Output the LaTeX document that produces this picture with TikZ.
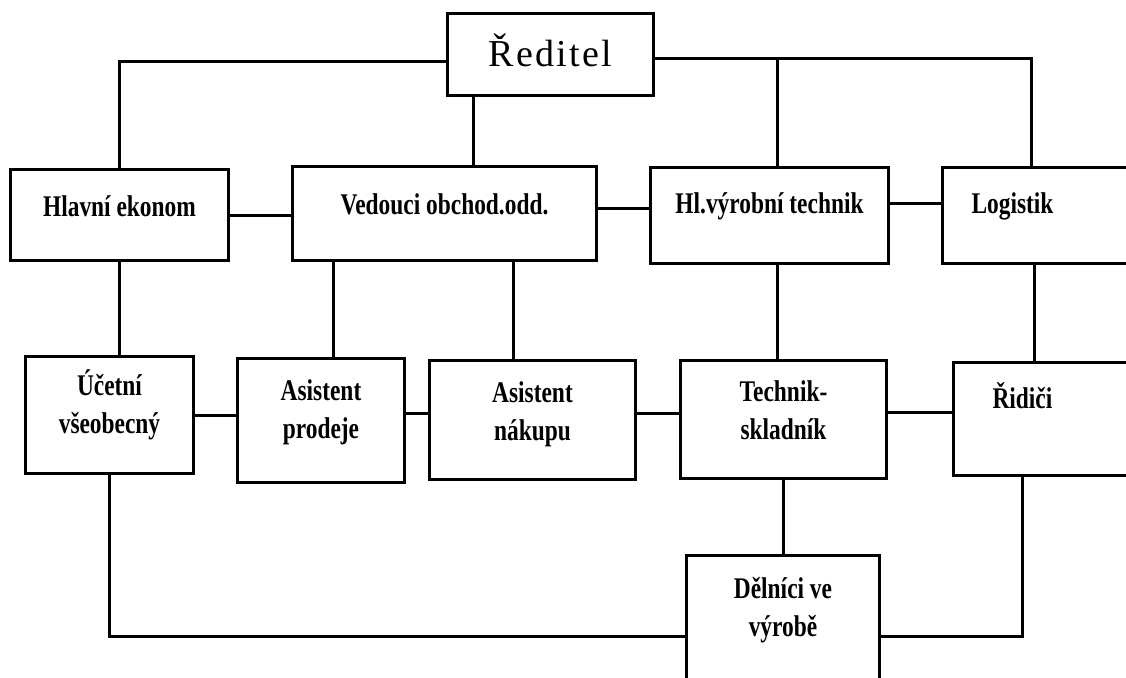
\documentclass[tikz,border=0pt]{standalone}
\usepackage{fontspec}
\newfontfamily\orgfont{Liberation Serif}[FakeStretch=0.78]
\newfontfamily\headfont{Liberation Serif}[LetterSpace=6]

\begin{document}
\begin{tikzpicture}[x=1pt,y=-1pt,
  unit/.style={draw,line width=3pt,inner xsep=0pt,inner ysep=0pt,anchor=north west,
    align=center,font=\orgfont\bfseries\fontsize{30}{38}\selectfont},
  link/.style={line width=3pt}]
  \useasboundingbox (0,0) rectangle (1126,677);

  % top and second row
  \node[unit,font=\headfont\fontsize{38}{40}\selectfont,minimum width=206pt,text height=53pt,text depth=29pt] (reditel) at (446,12) {Ředitel};
  \node[unit,minimum width=218pt,text height=47pt,text depth=44pt] (hlavni) at (9,168) {Hlavní ekonom};
  \node[unit,minimum width=304pt,text height=48pt,text depth=46pt] (vedouci) at (291,165) {Vedouci obchod.odd.};
  \node[unit,minimum width=238pt,text height=46pt,text depth=50pt] (vyroba) at (649,166) {Hl.výrobní technik};
  \node[unit,text width=200pt,align=left,inner xsep=29pt,text height=46pt,text depth=50pt] (logistik) at (941,166) {Logistik};

  % third row
  \node[unit,minimum width=168pt,text height=77pt,text depth=40pt] (ucetni) at (24,355) {Účetní\\všeobecný};
  \node[unit,minimum width=167pt,text height=80pt,text depth=44pt] (prodej) at (236,357) {Asistent\\prodeje};
  \node[unit,minimum width=206pt,text height=80pt,text depth=39pt] (nakup) at (428,359) {Asistent\\nákupu};
  \node[unit,minimum width=206pt,text height=79pt,text depth=39pt] (technik) at (679,359) {Technik-\\skladník};
  \node[unit,text width=200pt,align=left,inner xsep=39pt,text height=46pt,text depth=67pt] (ridici) at (952,361) {Řidiči};

  \node[unit,minimum width=193pt,text height=81pt,text depth=81pt] (delnici) at (685,554) {Dělníci ve\\výrobě};

  % links
  \draw[link] ([yshift=-7pt]reditel.west) -| (hlavni.north);
  \draw[link] ([yshift=-4pt]reditel.east) coordinate (rtop) -| ([xshift=90pt]logistik.north west);
  \draw[link] ([xshift=8pt]vyroba.north) coordinate (v3) -- (v3 |- rtop);
  \draw[link] ([xshift=27pt]reditel.south west) coordinate (r1) -- (r1 |- vedouci.north);

  \draw[link] (hlavni.east) -- (hlavni.east -| vedouci.west);
  \draw[link] ([yshift=5pt]vedouci.east) coordinate (v5) -- (v5 -| vyroba.west);
  \draw[link] ([yshift=12pt]vyroba.east) coordinate (v6) -- (v6 -| logistik.west);

  \draw[link] (hlavni.south) -- (hlavni.south |- ucetni.north);
  \draw[link] ([xshift=42pt]vedouci.south west) coordinate (v1) -- (v1 |- prodej.north);
  \draw[link] ([xshift=222pt]vedouci.south west) coordinate (v2) -- (v2 |- nakup.north);
  \draw[link] ([xshift=8pt]vyroba.south) coordinate (v4) -- (v4 |- technik.north);
  \draw[link] ([xshift=93pt]logistik.south west) coordinate (l1) -- (l1 |- ridici.north);

  \draw[link] (ucetni.east) -- (ucetni.east -| prodej.west);
  \draw[link] ([yshift=7pt]prodej.east) coordinate (p1) -- (p1 -| nakup.west);
  \draw[link] ([yshift=7pt]nakup.east) coordinate (n1) -- (n1 -| technik.west);
  \draw[link] ([yshift=7pt]technik.east) coordinate (t1) -- (t1 -| ridici.west);

  \draw[link] (technik.south) -- (technik.south |- delnici.north);
  \draw[link] (ucetni.south) |- (delnici.west);
  \draw[link] ([xshift=70pt]ridici.south west) coordinate (d1) |- (delnici.east);
\end{tikzpicture}
\end{document}
